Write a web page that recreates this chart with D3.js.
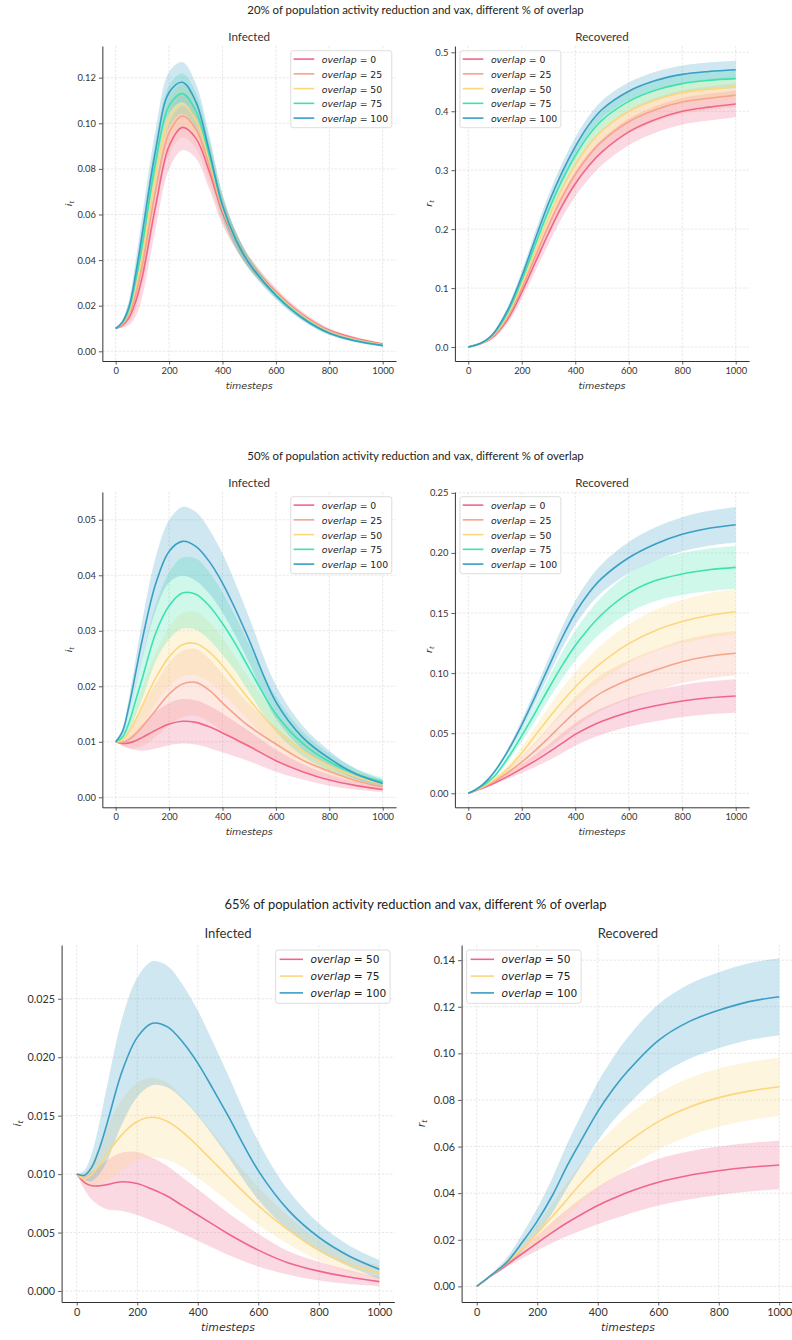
<!DOCTYPE html>
<html>
<head>
<meta charset="utf-8">
<script src="https://cdn.jsdelivr.net/npm/d3@7"></script>
<style>
  body { margin: 0; background: #fff; }
  text { font-family: Lato, "Open Sans", sans-serif; }
  .math { font-family: "DejaVu Sans", sans-serif; }
</style>
</head>
<body>
<svg id="fig" width="792" height="1340"></svg>
<script>
// ---- shared grid of timesteps ----
const T = [0, 25, 50, 75, 100, 150, 200, 250, 300, 350, 400, 450, 500, 600, 700, 800, 900, 1000];
const xTickValues = [0, 200, 400, 600, 800, 1000];
const palette = { pink: "#f0668a", salmon: "#f6a48a", yellow: "#fdd67f", mint: "#3ee2b1", blue: "#3a9ec5" };

const suptitles = [
  "20% of population activity reduction and vax, different % of overlap",
  "50% of population activity reduction and vax, different % of overlap",
  "65% of population activity reduction and vax, different % of overlap"
];

// ---- 20% reduction: infected (mean) ----
const inf20_o0   = [0.010, 0.0114, 0.0148, 0.0220, 0.0330, 0.0640, 0.0900, 0.0982, 0.0935, 0.0790, 0.0610, 0.0485, 0.0390, 0.0260, 0.0160, 0.0092, 0.0056, 0.0032];
const inf20_o25  = [0.010, 0.0118, 0.0161, 0.0250, 0.0378, 0.0708, 0.0958, 0.1032, 0.0975, 0.0815, 0.0620, 0.0487, 0.0389, 0.0256, 0.0157, 0.0089, 0.0053, 0.0030];
const inf20_o50  = [0.010, 0.0122, 0.0174, 0.0285, 0.0425, 0.0775, 0.1017, 0.1080, 0.1015, 0.0840, 0.0630, 0.0488, 0.0388, 0.0253, 0.0153, 0.0085, 0.0050, 0.0028];
const inf20_o75  = [0.010, 0.0125, 0.0185, 0.0310, 0.0470, 0.0833, 0.1076, 0.1130, 0.1055, 0.0860, 0.0635, 0.0489, 0.0387, 0.0249, 0.0149, 0.0082, 0.0047, 0.0026];
const inf20_o100 = [0.010, 0.0128, 0.0195, 0.0340, 0.0520, 0.0885, 0.1135, 0.1180, 0.1095, 0.0880, 0.0640, 0.0490, 0.0385, 0.0245, 0.0145, 0.0079, 0.0045, 0.0025];
// half-width of the spread band
const inf20_sd_o0   = [0, 0.0011, 0.0033, 0.0066, 0.0088, 0.0099, 0.0100, 0.0100, 0.0088, 0.0077, 0.0055, 0.0038, 0.0027, 0.0018, 0.0013, 0.0009, 0.0007, 0.0006];
const inf20_sd_o25  = [0, 0.0010, 0.0031, 0.0063, 0.0084, 0.0094, 0.0095, 0.0094, 0.0084, 0.0073, 0.0052, 0.0036, 0.0026, 0.0017, 0.0012, 0.0008, 0.0006, 0.0005];
const inf20_sd_o50  = [0, 0.0010, 0.0030, 0.0060, 0.0080, 0.0090, 0.0090, 0.0090, 0.0080, 0.0070, 0.0050, 0.0035, 0.0025, 0.0017, 0.0012, 0.0008, 0.0006, 0.0005];
const inf20_sd_o75  = [0, 0.0010, 0.0030, 0.0060, 0.0080, 0.0090, 0.0090, 0.0088, 0.0080, 0.0070, 0.0050, 0.0035, 0.0025, 0.0017, 0.0012, 0.0008, 0.0006, 0.0005];
const inf20_sd_o100 = [0, 0.0010, 0.0030, 0.0060, 0.0080, 0.0090, 0.0090, 0.0088, 0.0080, 0.0070, 0.0050, 0.0035, 0.0025, 0.0017, 0.0012, 0.0008, 0.0006, 0.0005];

// ---- 20% reduction: recovered ----
const rec20_o0   = [0, 0.0028, 0.0063, 0.0115, 0.0200, 0.049, 0.0930, 0.143, 0.1930, 0.2390, 0.2770, 0.3070, 0.3310, 0.3650, 0.3860, 0.4000, 0.4070, 0.4124];
const rec20_o25  = [0, 0.0028, 0.0066, 0.0123, 0.0216, 0.053, 0.0998, 0.153, 0.2058, 0.2533, 0.2928, 0.3244, 0.3490, 0.3823, 0.4025, 0.4156, 0.4221, 0.4271];
const rec20_o50  = [0, 0.0029, 0.0068, 0.0131, 0.0233, 0.057, 0.1065, 0.163, 0.2185, 0.2675, 0.3085, 0.3418, 0.3670, 0.3995, 0.4190, 0.4313, 0.4373, 0.4417];
const rec20_o75  = [0, 0.0030, 0.0071, 0.0138, 0.0249, 0.061, 0.1133, 0.173, 0.2313, 0.2818, 0.3243, 0.3591, 0.3850, 0.4168, 0.4355, 0.4469, 0.4524, 0.4553];
const rec20_o100 = [0, 0.0030, 0.0073, 0.0146, 0.0265, 0.065, 0.1200, 0.183, 0.2440, 0.2960, 0.3400, 0.3765, 0.4030, 0.4340, 0.4520, 0.4625, 0.4675, 0.4705];
const rec20_sd_o0   = [0, 0.0004, 0.0010, 0.0020, 0.0035, 0.0070, 0.0110, 0.0150, 0.0180, 0.0200, 0.0210, 0.0220, 0.0220, 0.0225, 0.0225, 0.0225, 0.0226, 0.0226];
const rec20_sd_o25  = [0, 0.0004, 0.0009, 0.0019, 0.0033, 0.0066, 0.0103, 0.0140, 0.0166, 0.0182, 0.0190, 0.0196, 0.0197, 0.0200, 0.0200, 0.0200, 0.0200, 0.0200];
const rec20_sd_o50  = [0, 0.0004, 0.0009, 0.0018, 0.0032, 0.0064, 0.0098, 0.0132, 0.0154, 0.0166, 0.0172, 0.0176, 0.0177, 0.0178, 0.0178, 0.0178, 0.0178, 0.0178];
const rec20_sd_o75  = [0, 0.0003, 0.0008, 0.0017, 0.0031, 0.0062, 0.0094, 0.0126, 0.0147, 0.0158, 0.0160, 0.0162, 0.0163, 0.0163, 0.0163, 0.0163, 0.0163, 0.0163];
const rec20_sd_o100 = [0, 0.0003, 0.0008, 0.0016, 0.0030, 0.0060, 0.0090, 0.0120, 0.0140, 0.0150, 0.0150, 0.0150, 0.0150, 0.0150, 0.0150, 0.0150, 0.0150, 0.0150];

// ---- 50% reduction: infected ----
const inf50_o0   = [0.010, 0.0097, 0.0098, 0.0102, 0.0108, 0.0121, 0.0132, 0.0137, 0.0135, 0.0127, 0.0116, 0.0104, 0.0092, 0.0066, 0.0046, 0.0031, 0.0021, 0.0014];
const inf50_o25  = [0.010, 0.0099, 0.0104, 0.0114, 0.0127, 0.0157, 0.0186, 0.0204, 0.0207, 0.0193, 0.0170, 0.0148, 0.0128, 0.0096, 0.0067, 0.0047, 0.0030, 0.0019];
const inf50_o50  = [0.010, 0.0103, 0.0118, 0.0140, 0.0165, 0.0215, 0.0253, 0.0275, 0.0277, 0.0262, 0.0237, 0.0207, 0.0176, 0.0122, 0.0084, 0.0057, 0.0037, 0.0024];
const inf50_o75  = [0.010, 0.0108, 0.0135, 0.0175, 0.0215, 0.0296, 0.0345, 0.0368, 0.0366, 0.0345, 0.0313, 0.0275, 0.0232, 0.0150, 0.0097, 0.0064, 0.0042, 0.0028];
const inf50_o100 = [0.010, 0.0118, 0.0165, 0.0225, 0.0285, 0.0385, 0.0443, 0.0461, 0.0452, 0.0425, 0.0386, 0.0337, 0.0283, 0.0172, 0.0108, 0.0070, 0.0042, 0.0025];
const inf50_sd_o0   = [0, 0.0004, 0.0010, 0.0017, 0.0024, 0.0033, 0.0038, 0.0040, 0.0040, 0.0038, 0.0035, 0.0031, 0.0027, 0.0020, 0.0014, 0.0010, 0.0007, 0.0005];
const inf50_sd_o25  = [0, 0.0006, 0.0015, 0.0025, 0.0035, 0.0048, 0.0056, 0.0060, 0.0060, 0.0057, 0.0052, 0.0046, 0.0040, 0.0030, 0.0021, 0.0014, 0.0009, 0.0007];
const inf50_sd_o50  = [0, 0.0006, 0.0014, 0.0024, 0.0033, 0.0046, 0.0053, 0.0057, 0.0057, 0.0054, 0.0050, 0.0044, 0.0038, 0.0029, 0.0020, 0.0014, 0.0009, 0.0007];
const inf50_sd_o75  = [0, 0.0006, 0.0016, 0.0027, 0.0037, 0.0051, 0.0060, 0.0064, 0.0064, 0.0061, 0.0056, 0.0049, 0.0043, 0.0032, 0.0022, 0.0015, 0.0010, 0.0007];
const inf50_sd_o100 = [0, 0.0006, 0.0015, 0.0025, 0.0035, 0.0048, 0.0056, 0.0062, 0.0062, 0.0058, 0.0053, 0.0047, 0.0041, 0.0030, 0.0021, 0.0014, 0.0009, 0.0007];

// ---- 50% reduction: recovered ----
const rec50_o0   = [0, 0.0019, 0.0040, 0.0063, 0.0088, 0.0143, 0.0205, 0.0270, 0.0340, 0.0415, 0.0490, 0.0550, 0.0600, 0.0675, 0.0728, 0.0768, 0.0795, 0.0810];
const rec50_o25  = [0, 0.0021, 0.0046, 0.0073, 0.0102, 0.0175, 0.0260, 0.0355, 0.0460, 0.0570, 0.0675, 0.0765, 0.0840, 0.0945, 0.1025, 0.1095, 0.1140, 0.1165];
const rec50_o50  = [0, 0.0022, 0.0049, 0.0081, 0.0117, 0.0210, 0.0335, 0.0480, 0.0625, 0.0760, 0.0885, 0.0995, 0.1090, 0.1245, 0.1355, 0.1430, 0.1480, 0.1510];
const rec50_o75  = [0, 0.0025, 0.0057, 0.0098, 0.0148, 0.0300, 0.0480, 0.0670, 0.0870, 0.1060, 0.1230, 0.1370, 0.1490, 0.1665, 0.1770, 0.1825, 0.1860, 0.1880];
const rec50_o100 = [0, 0.0028, 0.0065, 0.0118, 0.0185, 0.0360, 0.0570, 0.0805, 0.1050, 0.1290, 0.1500, 0.1665, 0.1790, 0.1960, 0.2075, 0.2155, 0.2205, 0.2235];
const rec50_sd_o0   = [0, 0.0002, 0.0004, 0.0007, 0.0011, 0.0022, 0.0037, 0.0052, 0.0067, 0.0082, 0.0094, 0.0103, 0.0110, 0.0121, 0.0129, 0.0134, 0.0137, 0.0140];
const rec50_sd_o25  = [0, 0.0002, 0.0005, 0.0010, 0.0015, 0.0030, 0.0050, 0.0070, 0.0090, 0.0110, 0.0125, 0.0138, 0.0148, 0.0162, 0.0172, 0.0178, 0.0182, 0.0185];
const rec50_sd_o50  = [0, 0.0002, 0.0005, 0.0010, 0.0015, 0.0030, 0.0050, 0.0070, 0.0090, 0.0110, 0.0125, 0.0138, 0.0148, 0.0162, 0.0172, 0.0180, 0.0185, 0.0187];
const rec50_sd_o75  = [0, 0.0002, 0.0005, 0.0010, 0.0015, 0.0030, 0.0050, 0.0070, 0.0090, 0.0110, 0.0125, 0.0138, 0.0148, 0.0162, 0.0170, 0.0174, 0.0176, 0.0177];
const rec50_sd_o100 = [0, 0.0002, 0.0004, 0.0008, 0.0012, 0.0024, 0.0040, 0.0056, 0.0072, 0.0088, 0.0100, 0.0110, 0.0118, 0.0130, 0.0138, 0.0142, 0.0145, 0.0148];

// ---- 65% reduction: infected ----
const inf65_o50  = [0.010, 0.0093, 0.0090, 0.0090, 0.0091, 0.00935, 0.0092, 0.0087, 0.0081, 0.0073, 0.0065, 0.0057, 0.0049, 0.0035, 0.0024, 0.0017, 0.0012, 0.0008];
const inf65_o75  = [0.010, 0.0096, 0.0100, 0.0108, 0.0117, 0.0134, 0.0145, 0.01486, 0.0145, 0.0136, 0.0124, 0.0111, 0.0098, 0.0073, 0.0052, 0.0035, 0.0023, 0.00157];
const inf65_o100 = [0.010, 0.0099, 0.0106, 0.0122, 0.0143, 0.0188, 0.0217, 0.0229, 0.0226, 0.0213, 0.0195, 0.0173, 0.0150, 0.0103, 0.0069, 0.0046, 0.0030, 0.00186];
const inf65_sd_o50  = [0, 0.0006, 0.0012, 0.0017, 0.0021, 0.0025, 0.0027, 0.0027, 0.0026, 0.0024, 0.0022, 0.0020, 0.0018, 0.0014, 0.0010, 0.0008, 0.0006, 0.0004];
const inf65_sd_o75  = [0, 0.0005, 0.0010, 0.0017, 0.0023, 0.0030, 0.0033, 0.0034, 0.0033, 0.0030, 0.0027, 0.0024, 0.0021, 0.0016, 0.0012, 0.0009, 0.0007, 0.0006];
const inf65_sd_o100 = [0, 0.0004, 0.0012, 0.0022, 0.0032, 0.0045, 0.0051, 0.0053, 0.0052, 0.0049, 0.0045, 0.0040, 0.0035, 0.0025, 0.0017, 0.0012, 0.0009, 0.0008];

// ---- 65% reduction: recovered ----
const rec65_o50  = [0, 0.0024, 0.0047, 0.0070, 0.0094, 0.0140, 0.0186, 0.0232, 0.0274, 0.0312, 0.0347, 0.0377, 0.0404, 0.0447, 0.0476, 0.0496, 0.0511, 0.0521];
const rec65_o75  = [0, 0.0025, 0.0049, 0.0074, 0.0101, 0.0162, 0.0228, 0.0300, 0.0375, 0.0450, 0.0515, 0.0570, 0.0620, 0.0707, 0.0768, 0.0810, 0.0838, 0.0857];
const rec65_o100 = [0, 0.0025, 0.0050, 0.0076, 0.0104, 0.0188, 0.0280, 0.0390, 0.0520, 0.0637, 0.0750, 0.0845, 0.0925, 0.1055, 0.1135, 0.1185, 0.1222, 0.1243];
const rec65_sd_o50  = [0, 0.0002, 0.0004, 0.0007, 0.0010, 0.0020, 0.0032, 0.0045, 0.0058, 0.0070, 0.0080, 0.0088, 0.0094, 0.0100, 0.0103, 0.0104, 0.0104, 0.0104];
const rec65_sd_o75  = [0, 0.0002, 0.0005, 0.0008, 0.0012, 0.0024, 0.0040, 0.0056, 0.0072, 0.0086, 0.0098, 0.0107, 0.0114, 0.0121, 0.0124, 0.0125, 0.0125, 0.0125];
const rec65_sd_o100 = [0, 0.0003, 0.0007, 0.0012, 0.0020, 0.0035, 0.0055, 0.0075, 0.0095, 0.0110, 0.0125, 0.0135, 0.0145, 0.0155, 0.0160, 0.0163, 0.0165, 0.0165];

// ---- figure layout ----
const small = { sup: 11.4, title: 11.6, tick: 9.35, label: 9.5, legend: 9.3, titleGap: 10 };
const large = { sup: 12.95, title: 13.1, tick: 10.8, label: 10.9, legend: 10.6, titleGap: 11.7 };

const rows = [
  { title: suptitles[0], titleY: 9.5, top: 46, bottom: 361, fs: small,
    panels: [
      { x0: 102.35, x1: 396.05, name: "Infected", ylab: "i", ylabX: 71.5, yDomain: [-0.00425, 0.1339],
        yTicks: [0, 0.02, 0.04, 0.06, 0.08, 0.10, 0.12], fmt: ".2f", legendSide: "right",
        series: [[0, "pink", inf20_o0, inf20_sd_o0], [25, "salmon", inf20_o25, inf20_sd_o25], [50, "yellow", inf20_o50, inf20_sd_o50], [75, "mint", inf20_o75, inf20_sd_o75], [100, "blue", inf20_o100, inf20_sd_o100]] },
      { x0: 454.9, x1: 749.1, name: "Recovered", ylab: "r", ylabX: 431.5, yDomain: [-0.0237, 0.5107],
        yTicks: [0, 0.1, 0.2, 0.3, 0.4, 0.5], fmt: ".1f", legendSide: "left",
        series: [[0, "pink", rec20_o0, rec20_sd_o0], [25, "salmon", rec20_o25, rec20_sd_o25], [50, "yellow", rec20_o50, rec20_sd_o50], [75, "mint", rec20_o75, rec20_sd_o75], [100, "blue", rec20_o100, rec20_sd_o100]] }
    ] },
  { title: suptitles[1], titleY: 455, top: 492, bottom: 807.3, fs: small,
    panels: [
      { x0: 102.35, x1: 396.05, name: "Infected", ylab: "i", ylabX: 71.5, yDomain: [-0.0018, 0.0550],
        yTicks: [0, 0.01, 0.02, 0.03, 0.04, 0.05], fmt: ".2f", legendSide: "right",
        series: [[0, "pink", inf50_o0, inf50_sd_o0], [25, "salmon", inf50_o25, inf50_sd_o25], [50, "yellow", inf50_o50, inf50_sd_o50], [75, "mint", inf50_o75, inf50_sd_o75], [100, "blue", inf50_o100, inf50_sd_o100]] },
      { x0: 454.9, x1: 749.1, name: "Recovered", ylab: "r", ylabX: 431.5, yDomain: [-0.01165, 0.2507],
        yTicks: [0, 0.05, 0.10, 0.15, 0.20, 0.25], fmt: ".2f", legendSide: "left",
        series: [[0, "pink", rec50_o0, rec50_sd_o0], [25, "salmon", rec50_o25, rec50_sd_o25], [50, "yellow", rec50_o50, rec50_sd_o50], [75, "mint", rec50_o75, rec50_sd_o75], [100, "blue", rec50_o100, rec50_sd_o100]] }
    ] },
  { title: suptitles[2], titleY: 903.5, top: 945, bottom: 1302, fs: large,
    panels: [
      { x0: 61.6, x1: 394.4, name: "Infected", ylab: "i", ylabX: 21, yDomain: [-0.00094, 0.0296],
        yTicks: [0, 0.005, 0.010, 0.015, 0.020, 0.025], fmt: ".3f", legendSide: "right",
        series: [[50, "pink", inf65_o50, inf65_sd_o50], [75, "yellow", inf65_o75, inf65_sd_o75], [100, "blue", inf65_o100, inf65_sd_o100]] },
      { x0: 461.6, x1: 794.4, name: "Recovered", ylab: "r", ylabX: 425, yDomain: [-0.0067, 0.1465],
        yTicks: [0, 0.02, 0.04, 0.06, 0.08, 0.10, 0.12, 0.14], fmt: ".2f", legendSide: "left",
        series: [[50, "pink", rec65_o50, rec65_sd_o50], [75, "yellow", rec65_o75, rec65_sd_o75], [100, "blue", rec65_o100, rec65_sd_o100]] }
    ] }
];

const svg = d3.select("#fig");
const ink = "#333";

rows.forEach(row => {
  svg.append("text")
    .attr("x", 415.5).attr("y", row.titleY)
    .attr("text-anchor", "middle").attr("dominant-baseline", "central")
    .attr("font-size", row.fs.sup).attr("fill", "#222")
    .text(row.title);
  row.panels.forEach(p => drawPanel(p, row));
});

function drawPanel(p, row) {
  const fs = row.fs;
  const x = d3.scaleLinear().domain([-50, 1050]).range([p.x0, p.x1]);
  const y = d3.scaleLinear().domain(p.yDomain).range([row.bottom, row.top]);
  const g = svg.append("g");
  const curve = d3.curveCatmullRom.alpha(0.5);

  // grid
  g.append("g").selectAll("line").data(xTickValues).join("line")
    .attr("x1", d => x(d)).attr("x2", d => x(d))
    .attr("y1", row.top).attr("y2", row.bottom)
    .attr("stroke", "#dedede").attr("stroke-width", 0.7).attr("stroke-dasharray", "2.5,1.5");
  g.append("g").selectAll("line").data(p.yTicks).join("line")
    .attr("x1", p.x0).attr("x2", p.x1)
    .attr("y1", d => y(d)).attr("y2", d => y(d))
    .attr("stroke", "#dedede").attr("stroke-width", 0.7).attr("stroke-dasharray", "2.5,1.5");

  // spread bands
  p.series.forEach(([ov, col, mean, sd]) => {
    const area = d3.area()
      .x((d, i) => x(T[i]))
      .y0((d, i) => y(d - sd[i]))
      .y1((d, i) => y(d + sd[i]))
      .curve(curve);
    g.append("path").datum(mean).attr("d", area)
      .attr("fill", palette[col]).attr("fill-opacity", 0.25).attr("stroke", "none");
  });

  // mean lines
  p.series.forEach(([ov, col, mean]) => {
    const line = d3.line()
      .x((d, i) => x(T[i]))
      .y(d => y(d))
      .curve(curve);
    g.append("path").datum(mean).attr("d", line)
      .attr("fill", "none").attr("stroke", palette[col]).attr("stroke-width", 1.6);
  });

  // axes
  const xAxis = g.append("g").attr("transform", `translate(0,${row.bottom})`)
    .call(d3.axisBottom(x).tickValues(xTickValues).tickFormat(d3.format("d"))
      .tickSize(3.5).tickSizeOuter(0).tickPadding(3));
  const yAxis = g.append("g").attr("transform", `translate(${p.x0},0)`)
    .call(d3.axisLeft(y).tickValues(p.yTicks).tickFormat(d3.format(p.fmt))
      .tickSize(3.5).tickSizeOuter(0).tickPadding(3));
  [xAxis, yAxis].forEach(a => {
    a.select(".domain").attr("stroke", ink).attr("stroke-width", 1);
    a.selectAll(".tick line").attr("stroke", ink).attr("stroke-width", 0.8);
    a.selectAll(".tick text").attr("fill", ink).attr("font-size", fs.tick)
      .attr("font-family", "Lato, sans-serif");
  });

  const cx = (p.x0 + p.x1) / 2;
  const cy = (row.top + row.bottom) / 2;

  // panel title
  g.append("text").attr("x", cx).attr("y", row.top - fs.titleGap)
    .attr("text-anchor", "middle").attr("font-size", fs.title).attr("fill", ink)
    .attr("dominant-baseline", "central").text(p.name);

  // x label
  g.append("text").attr("class", "math").attr("x", cx).attr("y", row.bottom + fs.tick + 15)
    .attr("text-anchor", "middle").attr("font-size", fs.label).attr("fill", ink)
    .attr("font-style", "italic").attr("dominant-baseline", "central").text("timesteps");

  // y label (symbol with subscript t)
  const yl = g.append("text").attr("class", "math")
    .attr("transform", `translate(${p.ylabX},${cy}) rotate(-90)`)
    .attr("text-anchor", "middle").attr("font-size", fs.label).attr("fill", ink);
  yl.append("tspan").attr("font-style", "italic").text(p.ylab);
  yl.append("tspan").attr("font-style", "italic").attr("font-size", fs.label * 0.7)
    .attr("dy", fs.label * 0.22).text("t");

  // legend
  const big = p.series.length === 3;
  const rowH = big ? 16.8 : 14.75;
  const boxW = big ? 114.5 : 101;
  const boxH = big ? 53.3 : 77;
  const bx = p.legendSide === "right" ? p.x1 - 4.3 - boxW : p.x0 + 5;
  const by = row.top + (big ? 5 : 4.7);
  const lg = g.append("g").attr("transform", `translate(${bx},${by})`);
  lg.append("rect").attr("width", boxW).attr("height", boxH).attr("rx", 2.5)
    .attr("fill", "#fff").attr("fill-opacity", 0.85).attr("stroke", "#d4d4d4").attr("stroke-width", 0.8);
  p.series.forEach(([ov, col], i) => {
    const ly = (big ? 9.3 : 8.4) + i * rowH;
    lg.append("line").attr("x1", big ? 4 : 2.8).attr("x2", big ? 27.4 : 23.5)
      .attr("y1", ly).attr("y2", ly)
      .attr("stroke", palette[col]).attr("stroke-width", 1.6);
    const t = lg.append("text").attr("class", "math").attr("x", big ? 35 : 31).attr("y", ly)
      .attr("dominant-baseline", "central").attr("font-size", fs.legend).attr("fill", "#222");
    t.append("tspan").attr("font-style", "italic").text("overlap");
    t.append("tspan").text(" = " + ov);
  });
}
</script>
</body>
</html>
